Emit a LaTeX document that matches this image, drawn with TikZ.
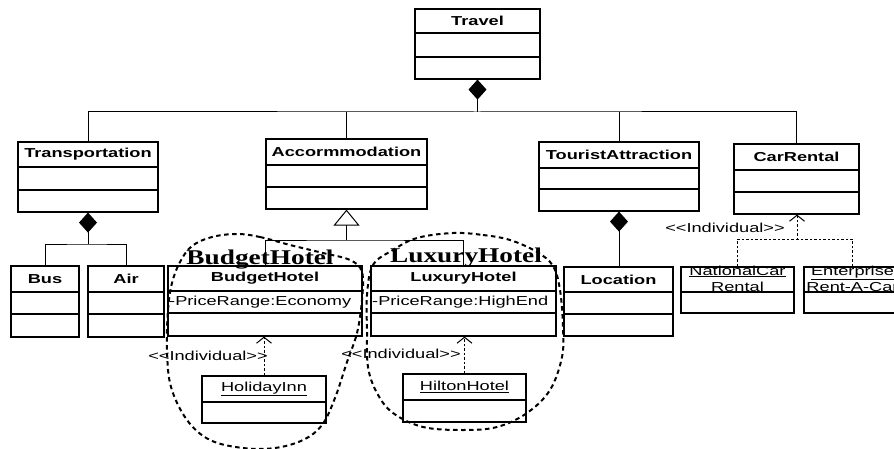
\documentclass[tikz,border=0pt]{standalone}
\usepackage{fontspec}
\setmainfont{Liberation Sans}
\newfontfamily\umlfont[FakeStretch=1.4,Ligatures=TeXOff]{Liberation Sans}
\newfontfamily\grpfont[FakeStretch=1.3]{Liberation Serif}
\usetikzlibrary{arrows.meta,fit}

\tikzset{
  classbox/.style={draw, line width=1.2pt, inner sep=0pt},
  divider/.style={line width=1.2pt},
  ctitle/.style={font=\umlfont\bfseries\fontsize{13}{15}\selectfont, inner sep=0pt},
  cattr/.style={font=\umlfont\fontsize{13}{15}\selectfont, inner sep=1pt, anchor=west},
  oname/.style={font=\umlfont\fontsize{13}{16}\selectfont, align=center, inner sep=0pt},
  conn/.style={line width=1pt},
  comp/.style={conn, {Diamond[length=20pt,width=18pt]}-},
  gen/.style={conn, {Triangle[open,fill=white,length=16pt,width=26pt]}-},
  inst/.style={line width=1pt, dash pattern=on 2.5pt off 2pt},
  instarrow/.style={inst, -{Straight Barb[length=6pt,width=15pt]}},
  stereo/.style={font=\umlfont\fontsize{13}{15}\selectfont, inner sep=0pt},
  blob/.style={line width=2pt, dash pattern=on 4.5pt off 3.5pt},
  grplabel/.style={font=\grpfont\bfseries\fontsize{21}{24}\selectfont, inner sep=0pt, anchor=base},
}

% class with name, attribute and operation compartments
% #1 name, #2 left, #3 top, #4 right, #5 bottom, #6 header line, #7 second line, #8 title
\newcommand\umlclass[8]{%
  \node[classbox, fit={(#2,#3) (#4,#5)}] (#1) {};
  \draw[divider] (#2,#6) -- (#4,#6) (#2,#7) -- (#4,#7);
  \node[ctitle] (#1-title) at ({(#2+#4)/2},{(#3+#6)/2}) {#8};
}
% instance box with two compartments
% #1 name, #2 left, #3 top, #4 right, #5 bottom, #6 header line, #7 text
\newcommand\umlobject[7]{%
  \node[classbox, fit={(#2,#3) (#4,#5)}] (#1) {};
  \draw[divider] (#2,#6) -- (#4,#6);
  \node[oname] (#1-title) at ({(#2+#4)/2},{(#3+#6)/2}) {#7};
}

\begin{document}
\begin{tikzpicture}[x=1pt,y=-1pt]
\useasboundingbox (0,0) rectangle (894,449);
\fill[white] (0,0) rectangle (894,449);
\clip (0,0) rectangle (894,449);

% classes
\umlclass{travel}{415}{9}{540}{79}{33}{57}{Travel}
\umlclass{transp}{18}{142}{158}{212}{167}{190}{Transportation}
\umlclass{accom}{266}{139}{427}{209}{165}{187}{Accormmodation}
\umlclass{tour}{539}{142}{699}{211}{168}{189}{TouristAttraction}
\umlclass{car}{734}{144}{859}{214}{170}{192}{CarRental}
\umlclass{bus}{11}{266}{79}{337}{292}{314}{Bus}
\umlclass{air}{88}{266}{164}{337}{292}{314}{Air}
\umlclass{budget}{168}{266}{362}{336}{291}{313}{BudgetHotel}
\umlclass{luxury}{371}{266}{556}{336}{291}{313}{LuxuryHotel}
\umlclass{location}{564}{267}{673}{336}{292}{314}{Location}

\node[cattr] (budget-attr) at (168,302) {-PriceRange:Economy};
\node[cattr] (luxury-attr) at (371,302) {-PriceRange:HighEnd};

% individuals
\umlobject{holiday}{202}{376}{326}{423}{402}{\underline{HolidayInn}}
\umlobject{hilton}{403}{374}{526}{422}{400}{\underline{HiltonHotel}}
\umlobject{national}{681}{267}{794}{313}{292}{\underline{NationalCar}\\\underline{Rental}}
\umlobject{enterprise}{804}{267}{901}{313}{292}{\underline{Enterprise}\\\underline{Rent-A-Car}}

% composition from Travel
\coordinate (jT) at (477.5,112);
\draw[comp] (travel.south) -- (jT);
\draw[conn] (transp.north) |- (jT) -| (car.north);
\draw[conn] (accom.north) -- (accom.north |- jT);
\draw[conn] (tour.north) -- (tour.north |- jT);

% composition from Transportation
\coordinate (jTr) at (88,244);
\draw[comp] (transp.south) -- (jTr);
\draw[conn] (bus.north) |- (jTr) -| (air.north);

% composition from TouristAttraction
\draw[comp] (tour.south) -- (tour.south |- location.north);

% generalisation of Accormmodation
\coordinate (jA) at (346.5,240);
\draw[gen] (accom.south) -- (jA);
\draw[conn] (budget.north) |- (jA) -| (luxury.north);

% instance-of links
\draw[instarrow] (holiday.north) -- (holiday.north |- budget.south);
\draw[instarrow] (hilton.north) -- (hilton.north |- luxury.south);
\coordinate (jC) at (797,239);
\draw[instarrow] (national.north) |- (jC) -- (jC |- car.south);
\draw[inst] (enterprise.north) |- (jC);

\node[stereo] (st1) at (208,356) {<<Individual>>};
\node[stereo] (st2) at (401,354) {<<Individual>>};
\node[stereo] (st3) at (725,228) {<<Individual>>};

% grouping outlines
\draw[blob] plot[smooth cycle, tension=0.6] coordinates {
  (237,234) (260,237) (290,245) (323,253) (350,260) (362,272) (362,300)
  (357,333) (347,362) (335,398) (322,425) (303,440) (275,448) (243,448)
  (210,440) (187,420) (171,387) (167,350) (168,310) (172,283) (180,262)
  (192,246) (212,237)};
\draw[blob] plot[smooth cycle, tension=0.6] coordinates {
  (453,233) (483,235) (510,240) (537,252) (553,266) (560,290) (563,327)
  (562,357) (550,390) (527,413) (497,427) (463,430) (423,427) (393,413)
  (377,393) (368,367) (367,330) (367,295) (373,265) (393,250) (417,238)};
\node[grplabel] (g1) at (260,264) {BudgetHotel};
\node[grplabel] (g2) at (466,262) {LuxuryHotel};
\end{tikzpicture}
\end{document}
